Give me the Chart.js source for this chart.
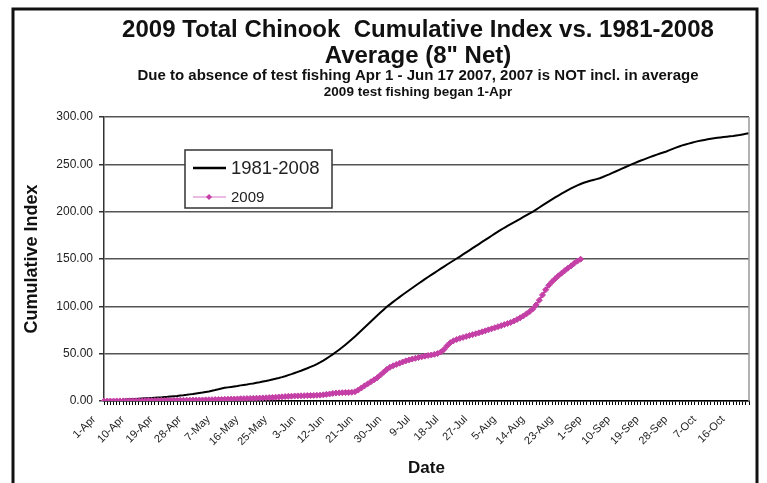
<!DOCTYPE html>
<html><head><meta charset="utf-8">
<script src="https://cdn.jsdelivr.net/npm/chart.js@4.4.1/dist/chart.umd.min.js"></script>
<style>html,body{margin:0;padding:0;background:#fff;}#wrap{width:767px;height:483px;}</style>
</head><body><div id="wrap"><canvas id="c" width="767" height="483"></canvas></div>
<script>
const categories = [
'1-Apr','2-Apr','3-Apr','4-Apr','5-Apr','6-Apr','7-Apr','8-Apr','9-Apr','10-Apr','11-Apr','12-Apr','13-Apr','14-Apr','15-Apr','16-Apr','17-Apr','18-Apr','19-Apr','20-Apr','21-Apr','22-Apr','23-Apr','24-Apr','25-Apr','26-Apr','27-Apr','28-Apr','29-Apr','30-Apr',
'1-May','2-May','3-May','4-May','5-May','6-May','7-May','8-May','9-May','10-May','11-May','12-May','13-May','14-May','15-May','16-May','17-May','18-May','19-May','20-May','21-May','22-May','23-May','24-May','25-May','26-May','27-May','28-May','29-May','30-May','31-May',
'1-Jun','2-Jun','3-Jun','4-Jun','5-Jun','6-Jun','7-Jun','8-Jun','9-Jun','10-Jun','11-Jun','12-Jun','13-Jun','14-Jun','15-Jun','16-Jun','17-Jun','18-Jun','19-Jun','20-Jun','21-Jun','22-Jun','23-Jun','24-Jun','25-Jun','26-Jun','27-Jun','28-Jun','29-Jun','30-Jun',
'1-Jul','2-Jul','3-Jul','4-Jul','5-Jul','6-Jul','7-Jul','8-Jul','9-Jul','10-Jul','11-Jul','12-Jul','13-Jul','14-Jul','15-Jul','16-Jul','17-Jul','18-Jul','19-Jul','20-Jul','21-Jul','22-Jul','23-Jul','24-Jul','25-Jul','26-Jul','27-Jul','28-Jul','29-Jul','30-Jul','31-Jul',
'1-Aug','2-Aug','3-Aug','4-Aug','5-Aug','6-Aug','7-Aug','8-Aug','9-Aug','10-Aug','11-Aug','12-Aug','13-Aug','14-Aug','15-Aug','16-Aug','17-Aug','18-Aug','19-Aug','20-Aug','21-Aug','22-Aug','23-Aug','24-Aug','25-Aug','26-Aug','27-Aug','28-Aug','29-Aug','30-Aug','31-Aug',
'1-Sep','2-Sep','3-Sep','4-Sep','5-Sep','6-Sep','7-Sep','8-Sep','9-Sep','10-Sep','11-Sep','12-Sep','13-Sep','14-Sep','15-Sep','16-Sep','17-Sep','18-Sep','19-Sep','20-Sep','21-Sep','22-Sep','23-Sep','24-Sep','25-Sep','26-Sep','27-Sep','28-Sep','29-Sep','30-Sep',
'1-Oct','2-Oct','3-Oct','4-Oct','5-Oct','6-Oct','7-Oct','8-Oct','9-Oct','10-Oct','11-Oct','12-Oct','13-Oct','14-Oct','15-Oct','16-Oct','17-Oct','18-Oct','19-Oct','20-Oct','21-Oct'
];
const tickLabels = ['1-Apr','10-Apr','19-Apr','28-Apr','7-May','16-May','25-May','3-Jun','12-Jun','21-Jun','30-Jun','9-Jul','18-Jul','27-Jul','5-Aug','14-Aug','23-Aug','1-Sep','10-Sep','19-Sep','28-Sep','7-Oct','16-Oct'];
const avg1981to2008 = [
0.0,0.2,0.4,0.6,0.8,1.0,1.2,1.5,1.8,2.0,
2.2,2.4,2.6,2.8,3.0,3.2,3.4,3.6,3.8,4.1,
4.4,4.8,5.1,5.4,5.8,6.1,6.5,7.0,7.4,7.9,
8.4,8.9,9.5,10.1,10.9,11.6,12.4,13.3,13.9,14.4,
14.9,15.4,15.9,16.5,17.0,17.5,18.1,18.6,19.2,19.8,
20.5,21.2,21.9,22.7,23.5,24.3,25.2,26.2,27.3,28.4,
29.6,30.8,32.0,33.3,34.6,36.0,37.4,39.0,40.8,42.7,
44.8,47.0,49.3,51.7,54.2,56.8,59.5,62.3,65.2,68.1,
71.2,74.4,77.6,80.8,84.0,87.2,90.3,93.4,96.5,99.5,
102.1,104.7,107.2,109.7,112.2,114.6,117.0,119.4,121.8,124.1,
126.4,128.7,131.0,133.2,135.4,137.6,139.8,142.0,144.2,146.3,
148.4,150.5,152.6,154.8,157.0,159.2,161.4,163.6,165.8,168.0,
170.2,172.4,174.6,176.8,179.0,181.0,183.0,184.9,186.8,188.7,
190.6,192.5,194.4,196.3,198.2,200.1,202.2,204.4,206.6,208.7,
210.8,212.9,215.0,217.0,219.0,220.8,222.7,224.5,226.2,227.8,
229.2,230.5,231.6,232.6,233.5,234.4,235.3,236.6,238.0,239.4,
240.9,242.4,243.9,245.4,246.9,248.4,249.9,251.3,252.7,254.0,
255.3,256.6,257.9,259.1,260.3,261.4,262.5,263.6,265.0,266.4,
267.7,268.9,270.0,271.0,271.9,272.8,273.7,274.5,275.2,275.8,
276.4,277.0,277.5,278.0,278.4,278.8,279.2,279.6,280.0,280.5,
281.0,281.6,282.2,282.8
];
const index2009 = [
0,0,0,0,0.1,0.1,0.1,0.1,0.2,0.2,
0.2,0.3,0.3,0.3,0.4,0.4,0.4,0.5,0.5,0.5,
0.6,0.6,0.7,0.7,0.8,0.8,0.9,0.9,1.0,1.0,
1.1,1.1,1.2,1.3,1.4,1.5,1.6,1.7,1.8,1.9,
2.0,2.1,2.2,2.4,2.5,2.6,2.7,2.8,3.0,3.1,
3.3,3.4,3.6,3.8,4.0,4.2,4.4,4.7,4.9,5.1,
5.3,5.4,5.5,5.6,5.7,5.8,5.9,6.0,6.2,6.5,
7.0,7.4,8.0,8.4,8.6,8.8,8.9,9.0,9.2,9.8,
11.5,13.8,16.0,18.1,20.3,22.4,24.6,27.4,30.5,33.4,
35.6,37.2,38.6,39.9,41.2,42.4,43.4,44.3,45.1,45.9,
46.7,47.4,48.0,48.6,49.3,50.2,51.8,54.5,58.4,61.6,
63.6,65.0,66.2,67.2,68.2,69.2,70.1,71.0,72.0,73.1,
74.1,75.2,76.3,77.4,78.5,79.6,80.7,81.8,83.0,84.5,
86.1,87.9,89.9,92.1,94.5,97.4,101.5,106.5,112.0,117.5,
122.2,126.0,129.2,132.2,135.0,137.7,140.3,142.7,145.5,147.8,149.8
];
const seriesNames = ['1981-2008','2009'];
const titleLines = ['2009 Total Chinook  Cumulative Index vs. 1981-2008','Average (8" Net)'];
const subtitleLines = ['Due to absence of test fishing Apr 1 - Jun 17 2007, 2007 is NOT incl. in average','2009 test fishing began 1-Apr'];

const FONT = "'Liberation Sans', Arial, sans-serif";
Chart.defaults.font.family = FONT;

const framePlugin = {
  id: 'frame',
  beforeDraw(chart) {
    const ctx = chart.ctx;
    ctx.save();
    ctx.fillStyle = '#fff';
    ctx.fillRect(0, 0, chart.width, chart.height);
    ctx.strokeStyle = '#111';
    ctx.lineWidth = 3;
    ctx.strokeRect(13, 9, 744, 520);
    ctx.restore();
  },
  afterDraw(chart) {
    const ctx = chart.ctx, a = chart.chartArea;
    ctx.save();
    ctx.strokeStyle = '#999';
    ctx.lineWidth = 1.5;
    ctx.beginPath(); ctx.moveTo(a.right, a.top); ctx.lineTo(a.right, a.bottom); ctx.stroke();
    ctx.fillStyle = '#111';
    ctx.textAlign = 'center';
    ctx.textBaseline = 'middle';
    const cx = 418;
    ctx.font = 'bold 24px ' + FONT;
    ctx.fillText(titleLines[0], cx, 30);
    ctx.fillText(titleLines[1], cx, 56);
    ctx.font = 'bold 15px ' + FONT;
    ctx.fillText(subtitleLines[0], cx, 76);
    ctx.font = 'bold 13.5px ' + FONT;
    ctx.fillText(subtitleLines[1], cx, 92);
    const lx = a.left + 81, ly = 150, lw = 147, lh = 58;
    ctx.fillStyle = '#fff';
    ctx.fillRect(lx, ly, lw, lh);
    ctx.strokeStyle = '#333';
    ctx.lineWidth = 1.5;
    ctx.strokeRect(lx, ly, lw, lh);
    const ds = chart.data.datasets;
    const rows = [{y: ly + 18, size: 18.5}, {y: ly + 47, size: 15}];
    ds.forEach((d, i) => {
      const r = rows[i];
      ctx.strokeStyle = d.legendLine || d.borderColor;
      ctx.lineWidth = i === 0 ? 2.5 : 1.5;
      ctx.beginPath(); ctx.moveTo(lx + 8, r.y); ctx.lineTo(lx + 41, r.y); ctx.stroke();
      if (d.pointRadius > 0) {
        ctx.fillStyle = d.pointBackgroundColor;
        ctx.beginPath();
        const mx = lx + 24, s = 3;
        ctx.moveTo(mx, r.y - s); ctx.lineTo(mx + s, r.y); ctx.lineTo(mx, r.y + s); ctx.lineTo(mx - s, r.y); ctx.closePath();
        ctx.fill();
      }
      ctx.fillStyle = '#222';
      ctx.textAlign = 'left';
      ctx.font = r.size + 'px ' + FONT;
      ctx.fillText(d.label, lx + 46, r.y + 1);
    });
    ctx.restore();
  }
};

new Chart(document.getElementById('c'), {
  type: 'line',
  data: {
    labels: categories,
    datasets: [
      {label: seriesNames[0], data: avg1981to2008, borderColor: '#000', borderWidth: 2, pointRadius: 0, order: 1, tension: 0},
      {label: seriesNames[1], data: index2009, borderColor: '#C43FA6', legendLine: '#E3A3D8', borderWidth: 2,
       pointRadius: 3, pointStyle: 'rectRot', pointBackgroundColor: '#C43FA6', pointBorderColor: '#C43FA6', pointBorderWidth: 1, order: 0, tension: 0}
    ]
  },
  options: {
    responsive: false,
    animation: false,
    devicePixelRatio: 1,
    layout: {padding: {top: 117, right: 18, bottom: 0, left: 0}},
    plugins: {legend: {display: false}, tooltip: {enabled: false}, title: {display: false}},
    scales: {
      x: {
        type: 'category',
        ticks: {
          autoSkip: false, maxRotation: 45, minRotation: 45,
          callback: (v, i) => tickLabels.includes(categories[i]) ? categories[i] : '',
          font: {size: 11}, color: '#222', padding: 8, labelOffset: -10
        },
        grid: {display: true, drawOnChartArea: false, drawTicks: true, tickLength: 4, color: '#000', lineWidth: 1},
        border: {display: true, color: '#000', width: 1.5},
        title: {display: true, text: 'Date', font: {size: 17, weight: 'bold'}, color: '#111', padding: {top: 0, bottom: 4}},
        afterFit: s => { s.height = 82; }
      },
      y: {
        min: 0, max: 300,
        ticks: {stepSize: 50, callback: v => v.toFixed(2), font: {size: 12}, color: '#222', padding: 6},
        grid: {color: '#555', lineWidth: 1.5, tickLength: 5, drawTicks: true, tickColor: '#333'},
        border: {display: true, color: '#333', width: 1.5},
        title: {display: true, text: 'Cumulative Index', font: {size: 18, weight: 'bold'}, color: '#111', padding: {top: 21, bottom: 0}},
        afterFit: s => { s.width = 104; }
      }
    }
  },
  plugins: [framePlugin]
});
</script>
</body></html>
